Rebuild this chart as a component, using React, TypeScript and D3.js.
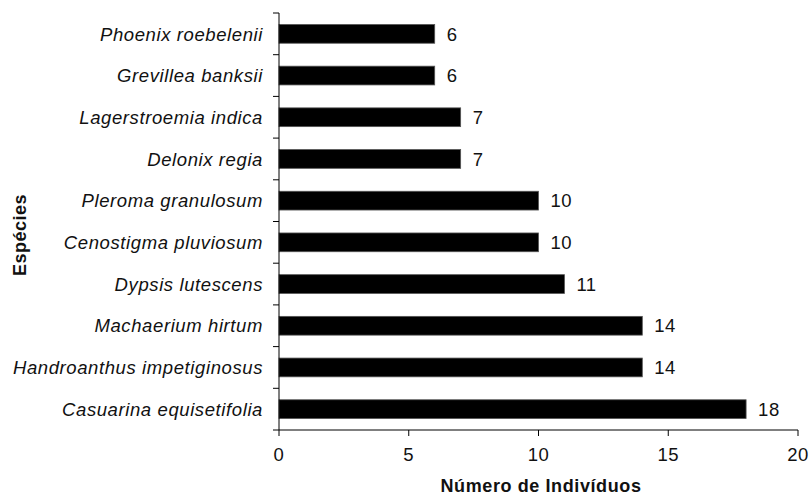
import React from 'react';
import * as d3 from 'd3';

const species = [
  'Phoenix roebelenii',
  'Grevillea banksii',
  'Lagerstroemia indica',
  'Delonix regia',
  'Pleroma granulosum',
  'Cenostigma pluviosum',
  'Dypsis lutescens',
  'Machaerium hirtum',
  'Handroanthus impetiginosus',
  'Casuarina equisetifolia',
];
const counts = [6, 6, 7, 7, 10, 10, 11, 14, 14, 18];
const xTicks = [0, 5, 10, 15, 20];

const font = 'Arial, "Liberation Sans", sans-serif';

export default function App() {
  const left = 279;
  const right = 798;
  const top = 13;
  const bottom = 430;

  const x = d3.scaleLinear().domain([0, 20]).range([left, right]);
  const y = d3.scaleBand().domain(species).range([top, bottom]).paddingInner(0.55).paddingOuter(0.275);
  const step = y.step();
  const boundaries = d3.range(species.length + 1).map(i => top + i * step);

  return (
    <svg width={811} height={497} style={{ position: 'absolute', left: 0, top: 0, background: '#fff' }}>
      {species.map((s, i) => (
        <g key={s}>
          <rect
            x={x(0)}
            y={y(s)}
            width={x(counts[i]) - x(0)}
            height={y.bandwidth()}
            fill="#000"
            stroke="#555"
            strokeWidth={0.8}
          />
          <text
            x={x(counts[i]) + 12}
            y={(y(s) as number) + y.bandwidth() / 2}
            dy="0.36em"
            fontFamily={font}
            fontSize={18.5}
            letterSpacing={0.5}
            fill="#111"
          >
            {counts[i]}
          </text>
          <text
            x={left - 16}
            y={(y(s) as number) + y.bandwidth() / 2}
            dy="0.36em"
            textAnchor="end"
            fontFamily={font}
            fontStyle="italic"
            fontSize={18.5}
            letterSpacing={0.6}
            fill="#111"
          >
            {s}
          </text>
        </g>
      ))}
      <line x1={left} x2={left} y1={top} y2={bottom} stroke="#000" strokeWidth={1} />
      {boundaries.map((b, i) => (
        <line key={i} x1={left - 6} x2={left} y1={b} y2={b} stroke="#000" strokeWidth={1} />
      ))}
      <line x1={left} x2={right} y1={bottom} y2={bottom} stroke="#000" strokeWidth={1} />
      {xTicks.map(t => (
        <g key={t}>
          <line x1={x(t)} x2={x(t)} y1={bottom} y2={bottom + 6} stroke="#000" strokeWidth={1} />
          <text
            x={x(t)}
            y={bottom + 31}
            textAnchor="middle"
            fontFamily={font}
            fontSize={18.5}
            letterSpacing={0.5}
            fill="#111"
          >
            {t}
          </text>
        </g>
      ))}
      <text
        x={541}
        y={492}
        textAnchor="middle"
        fontFamily={font}
        fontWeight="bold"
        fontSize={18}
        letterSpacing={0.6}
        fill="#111"
      >
        Número de Indivíduos
      </text>
      <text
        transform={`translate(26, 235) rotate(-90)`}
        textAnchor="middle"
        fontFamily={font}
        fontWeight="bold"
        fontSize={18}
        letterSpacing={0.5}
        fill="#111"
      >
        Espécies
      </text>
    </svg>
  );
}
